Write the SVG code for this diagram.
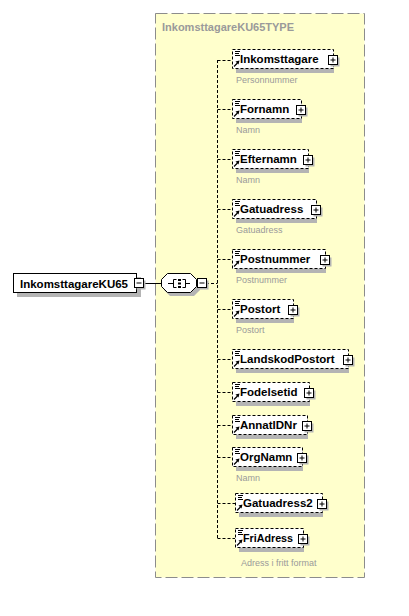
<svg xmlns="http://www.w3.org/2000/svg" xmlns:xlink="http://www.w3.org/1999/xlink" width="409" height="616" viewBox="0 0 409 616">
<style>
.bg{fill:#fff}
.type{fill:#ffffcc;stroke:#8c8c8c;stroke-dasharray:12 4}
.title{font:bold 11px "Liberation Sans",Arial,sans-serif;fill:#9a9a9a}
.ebox{fill:#fff;stroke:#000;stroke-dasharray:3 2}
.rbox{fill:#fff;stroke:#000}
.sh{fill:#b4b4b4}
.lbl{font:bold 11.5px "Liberation Sans",Arial,sans-serif;fill:#000}
.cap{font:9px "Liberation Sans",Arial,sans-serif;fill:#9a9a9a}
.conn{stroke:#000;fill:none;stroke-dasharray:3 2}
.solid{stroke:#000;fill:none}
</style>
<defs>
<g id="eicon">
<path d="M3,2.5H8M3,4.5H7M3,6.5H8" stroke="#000" fill="none"/>
<path d="M2,17.5L5.5,14" stroke="#000" stroke-width="1.3"/>
<polygon points="7.5,11.5 3.5,12.5 6.5,15.5" fill="#000"/>
</g>
<g id="plus">
<rect x="-2.5" y="-2.5" width="9" height="9" class="sh"/>
<rect x="-4.5" y="-4.5" width="9" height="9" class="rbox"/>
<path d="M-2.5,0H2.5M0,-2.5V2.5" stroke="#000"/>
</g>
<g id="minus">
<rect x="-2.5" y="-2.5" width="9" height="9" class="sh"/>
<rect x="-4.5" y="-4.5" width="9" height="9" class="rbox"/>
<path d="M-2.5,0H2.5" stroke="#000"/>
</g>
</defs>
<rect width="409" height="616" class="bg"/>
<g id="type-box">
<rect x="155.5" y="13.5" width="209" height="564" class="type"/>
<text x="162" y="31" class="title">InkomsttagareKU65TYPE</text>
</g>
<g id="connectors">
<path d="M143,283.5H161" class="solid"/>
<path d="M206,283.5H217.5" class="conn"/>
<path d="M217.5,60V538" class="conn"/>
<path d="M217.5,60.5H232M217.5,109.5H232M217.5,159.5H232M217.5,209.5H232M217.5,259.5H232M217.5,309.5H232M217.5,359.5H232M217.5,392.5H232M217.5,425.5H232M217.5,457.5H232M217.5,503.5H235M217.5,538.5H235" class="conn"/>
</g>
<g id="root">
<rect x="17" y="277" width="124" height="20" class="sh"/>
<rect x="13.5" y="273.5" width="123" height="19" class="rbox"/>
<text x="20" y="288" class="lbl">InkomsttagareKU65</text>
<use xlink:href="#minus" x="139" y="283"/>
</g>
<g id="sequence">
<polygon points="170,277 194,277 200,283 200,290 194,296 170,296 164,290 164,283" class="sh"/>
<polygon points="167.5,273.5 190.5,273.5 196.5,279.5 196.5,286.5 190.5,292.5 167.5,292.5 161.5,286.5 161.5,279.5" class="rbox"/>
<path d="M168,283.5H173M186,283.5H190" stroke="#000"/>
<path d="M176.5,279.5H173.5V287.5H176.5M182.5,279.5H185.5V287.5H182.5" stroke="#000" fill="none"/>
<rect x="178" y="279" width="3" height="2" fill="#000"/>
<rect x="178" y="282.5" width="3" height="2" fill="#000"/>
<rect x="178" y="286" width="3" height="2" fill="#000"/>
<use xlink:href="#minus" x="202" y="283"/>
</g>
<g id="Inkomsttagare">
<rect x="236" y="53" width="98" height="20" class="sh"/>
<rect x="232.5" y="49.5" width="101" height="19" class="ebox"/>
<use xlink:href="#eicon" x="232" y="49"/>
<text x="240" y="63" class="lbl">Inkomsttagare</text>
<use xlink:href="#plus" x="333" y="60"/>
<text x="236" y="83" class="cap">Personnummer</text>
</g>
<g id="Fornamn">
<rect x="236" y="103" width="66" height="20" class="sh"/>
<rect x="232.5" y="99.5" width="69" height="19" class="ebox"/>
<use xlink:href="#eicon" x="232" y="99"/>
<text x="240" y="113" class="lbl">Fornamn</text>
<use xlink:href="#plus" x="301" y="110"/>
<text x="236" y="133" class="cap">Namn</text>
</g>
<g id="Efternamn">
<rect x="236" y="153" width="73" height="20" class="sh"/>
<rect x="232.5" y="149.5" width="76" height="19" class="ebox"/>
<use xlink:href="#eicon" x="232" y="149"/>
<text x="240" y="163" class="lbl">Efternamn</text>
<use xlink:href="#plus" x="308" y="160"/>
<text x="236" y="183" class="cap">Namn</text>
</g>
<g id="Gatuadress">
<rect x="236" y="203" width="81" height="20" class="sh"/>
<rect x="232.5" y="199.5" width="84" height="19" class="ebox"/>
<use xlink:href="#eicon" x="232" y="199"/>
<text x="240" y="213" class="lbl">Gatuadress</text>
<use xlink:href="#plus" x="316" y="210"/>
<text x="236" y="233" class="cap">Gatuadress</text>
</g>
<g id="Postnummer">
<rect x="236" y="253" width="90" height="20" class="sh"/>
<rect x="232.5" y="249.5" width="93" height="19" class="ebox"/>
<use xlink:href="#eicon" x="232" y="249"/>
<text x="240" y="263" class="lbl">Postnummer</text>
<use xlink:href="#plus" x="325" y="260"/>
<text x="236" y="283" class="cap">Postnummer</text>
</g>
<g id="Postort">
<rect x="236" y="303" width="58" height="20" class="sh"/>
<rect x="232.5" y="299.5" width="61" height="19" class="ebox"/>
<use xlink:href="#eicon" x="232" y="299"/>
<text x="240" y="313" class="lbl">Postort</text>
<use xlink:href="#plus" x="293" y="310"/>
<text x="236" y="333" class="cap">Postort</text>
</g>
<g id="LandskodPostort">
<rect x="236" y="353" width="113" height="20" class="sh"/>
<rect x="232.5" y="349.5" width="116" height="19" class="ebox"/>
<use xlink:href="#eicon" x="232" y="349"/>
<text x="240" y="363" class="lbl">LandskodPostort</text>
<use xlink:href="#plus" x="348" y="360"/>
</g>
<g id="Fodelsetid">
<rect x="236" y="386" width="74" height="20" class="sh"/>
<rect x="232.5" y="382.5" width="77" height="19" class="ebox"/>
<use xlink:href="#eicon" x="232" y="382"/>
<text x="240" y="396" class="lbl">Fodelsetid</text>
<use xlink:href="#plus" x="309" y="393"/>
</g>
<g id="AnnatIDNr">
<rect x="236" y="419" width="72" height="20" class="sh"/>
<rect x="232.5" y="415.5" width="75" height="19" class="ebox"/>
<use xlink:href="#eicon" x="232" y="415"/>
<text x="240" y="429" class="lbl">AnnatIDNr</text>
<use xlink:href="#plus" x="307" y="426"/>
</g>
<g id="OrgNamn">
<rect x="236" y="451" width="67" height="20" class="sh"/>
<rect x="232.5" y="447.5" width="70" height="19" class="ebox"/>
<use xlink:href="#eicon" x="232" y="447"/>
<text x="240" y="461" class="lbl">OrgNamn</text>
<use xlink:href="#plus" x="302" y="458"/>
<text x="236" y="481" class="cap">Namn</text>
</g>
<g id="Gatuadress2">
<rect x="239" y="497" width="84" height="20" class="sh"/>
<rect x="235.5" y="493.5" width="87" height="19" class="ebox"/>
<use xlink:href="#eicon" x="235" y="493"/>
<text x="243" y="507" class="lbl">Gatuadress2</text>
<use xlink:href="#plus" x="322" y="504"/>
</g>
<g id="FriAdress">
<rect x="239" y="532" width="65" height="20" class="sh"/>
<rect x="235.5" y="528.5" width="68" height="19" class="ebox"/>
<use xlink:href="#eicon" x="235" y="528"/>
<text x="243" y="542" class="lbl" textLength="50" lengthAdjust="spacingAndGlyphs">FriAdress</text>
<use xlink:href="#plus" x="303" y="539"/>
<text x="241" y="566" class="cap">Adress i fritt format</text>
</g>
</svg>
